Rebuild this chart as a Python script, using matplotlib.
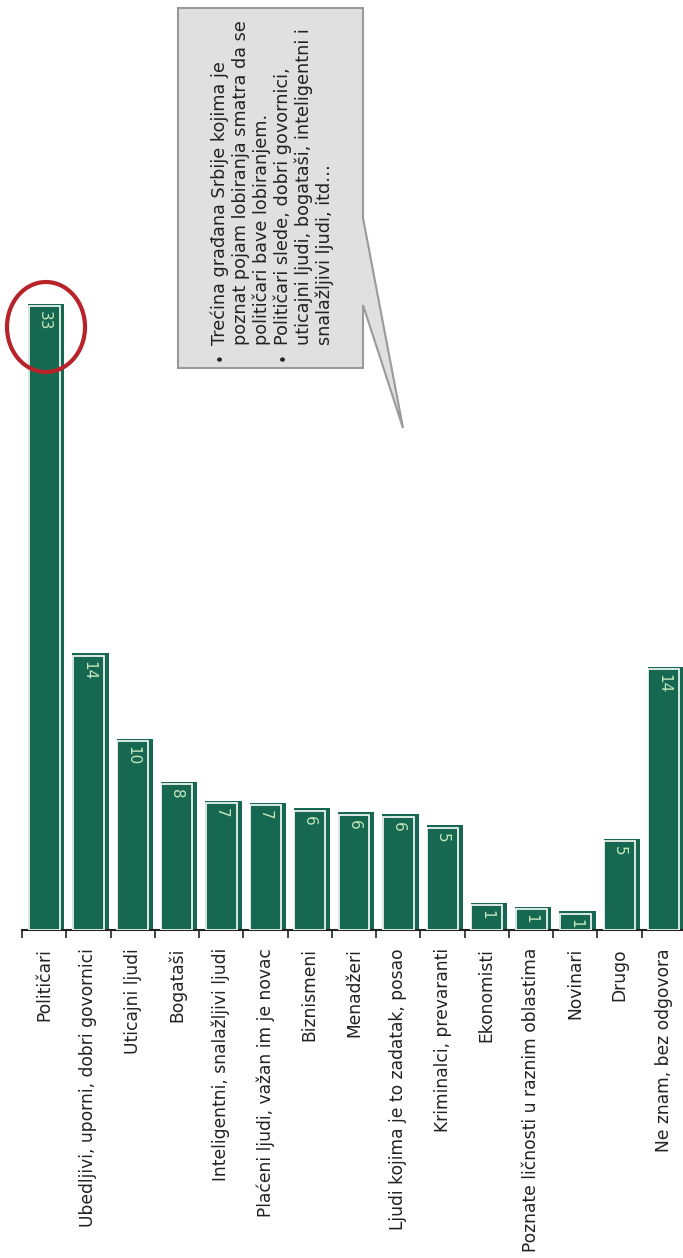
import matplotlib
matplotlib.use("Agg")
import matplotlib.pyplot as plt
from matplotlib.patches import Ellipse, Polygon

categories = [
    "Političari",
    "Ubedljivi, uporni, dobri govornici",
    "Uticajni ljudi",
    "Bogataši",
    "Inteligentni, snalažljivi ljudi",
    "Plaćeni ljudi, važan im je novac",
    "Biznismeni",
    "Menadžeri",
    "Ljudi kojima je to zadatak, posao",
    "Kriminalci, prevaranti",
    "Ekonomisti",
    "Poznate ličnosti u raznim oblastima",
    "Novinari",
    "Drugo",
    "Ne znam, bez odgovora",
]
values = [33, 14.5, 10, 7.7, 6.7, 6.6, 6.3, 6.1, 6.0, 5.4, 1.3, 1.1, 0.85, 4.7, 13.8]
value_labels = ["33", "14", "10", "8", "7", "7", "6", "6", "6", "5", "1", "1", "1", "5", "14"]

callout_lines = [
    ("•", "Trećina građana Srbije kojima je"),
    ("", "poznat pojam lobiranja smatra da se"),
    ("", "političari bave lobiranjem."),
    ("•", "Političari slede, dobri govornici,"),
    ("", "uticajni ljudi, bogataši, inteligentni i"),
    ("", "snalažljivi ljudi, itd…"),
]

green = "#166950"
label_green = "#c4e6bd"

W, H = 683, 1258
fig = plt.figure(figsize=(W / 100, H / 100), dpi=100)

base = 930
ax = fig.add_axes([22 / W, (H - base) / H, 664 / W, base / H])
n = len(categories)
x = list(range(n))

# back bars give the offset "shadow" edge, front bars sit on top with a white rim
ax.bar([i + 0.05 for i in x], [v + 0.13 for v in values], width=0.82, color=green, zorder=2)
ax.bar(x, values, width=0.70, color=green, edgecolor="white", linewidth=1.2, zorder=3)

for i, (v, lab) in enumerate(zip(values, value_labels)):
    ax.text(i, v - 0.26, lab, rotation=-90, ha="center", va="top",
            color=label_green, fontsize=11, zorder=4)

ax.set_xlim(-0.5, n - 0.5)
ax.set_ylim(0, base / 18.9)

ax.set_xticks(x)
ax.set_xticklabels(categories, rotation=90, fontsize=12.3, color="#222222")
ax.tick_params(axis="x", which="major", length=0, pad=13)
ax.set_xticks([i - 0.5 for i in range(n + 1)], minor=True)
ax.tick_params(axis="x", which="minor", length=6, width=1.2, color="#222222")
ax.set_yticks([])
for s in ["top", "right", "left"]:
    ax.spines[s].set_visible(False)
ax.spines["bottom"].set_linewidth(1.5)
ax.spines["bottom"].set_color("#222222")

# overlay in pixel coordinates for the callout and the highlight ring
ov = fig.add_axes([0, 0, 1, 1])
ov.set_xlim(0, W)
ov.set_ylim(H, 0)
ov.axis("off")

box = Polygon([(178, 8), (363, 8), (363, 218), (403, 428), (363, 305), (363, 368), (178, 368)],
              closed=True, facecolor="#e0e0e0", edgecolor="#9a9a9a", linewidth=1.5)
ov.add_patch(box)

line_x = [220, 241, 262, 283, 304, 325]
for lx, (bullet, txt) in zip(line_x, callout_lines):
    ov.text(lx, 345, txt, rotation=90, ha="center", va="bottom", fontsize=12.7, color="#222222")
    if bullet:
        ov.text(lx, 357, bullet, rotation=90, ha="center", va="center", fontsize=11, color="#222222")

ring = Ellipse((46, 327), 78, 90, fill=False, edgecolor="#b8232a", linewidth=3)
ov.add_patch(ring)

fig.savefig("out.png", dpi=100)
